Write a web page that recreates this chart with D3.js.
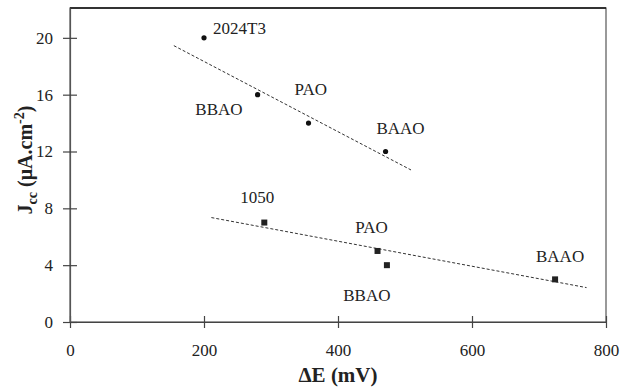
<!DOCTYPE html>
<html>
<head>
<meta charset="utf-8">
<script src="https://cdn.jsdelivr.net/npm/d3@7"></script>
<style>
  html, body { margin: 0; padding: 0; background: #fff; }
  svg text { font-family: "Liberation Serif", "DejaVu Serif", serif; fill: #222; }
</style>
</head>
<body>
<div id="chart"></div>
<script>
// alloy / anodic layer series
const upperNames = ['2024T3', 'BBAO', 'PAO', 'BAAO'];
const upperDeltaE = [200, 280, 356, 471];
const upperJcc = [20, 16, 14, 12];

const lowerNames = ['1050', 'PAO', 'BBAO', 'BAAO'];
const lowerDeltaE = [290, 459, 473, 724];
const lowerJcc = [7, 5, 4, 3];

// dashed trend lines (end points)
const upperFitX = [155, 509];
const upperFitY = [19.45, 10.7];
const lowerFitX = [211, 771];
const lowerFitY = [7.35, 2.42];

const xTicks = [0, 200, 400, 600, 800];
const yTicks = [0, 4, 8, 12, 16, 20];

// label placement relative to its point (px)
const upperLabelOffsets = [[9, -4, 'start'], [-15, 20, 'end'], [-14, -28, 'start'], [15, -18, 'middle']];
const lowerLabelOffsets = [[-7, -20, 'middle'], [-6, -18, 'middle'], [-20, 36, 'middle'], [5, -17, 'middle']];

const width = 635, height = 390;
const margin = { top: 8, right: 29, bottom: 68, left: 70 };
const w = width - margin.left - margin.right;
const h = height - margin.top - margin.bottom;

const svg = d3.select('#chart').append('svg')
  .attr('width', width)
  .attr('height', height);

const g = svg.append('g')
  .attr('transform', `translate(${margin.left},${margin.top})`);

const x = d3.scaleLinear().domain([0, 800]).range([0, w]);
const y = d3.scaleLinear().domain([0, 22.1]).range([h, 0]);

// frame
g.append('rect')
  .attr('width', w).attr('height', h)
  .attr('fill', 'none')
  .attr('stroke', '#555')
  .attr('stroke-width', 1.2);
g.append('line')
  .attr('x1', 0).attr('x2', w).attr('y1', 0).attr('y2', 0)
  .attr('stroke', '#111').attr('stroke-width', 1.5);

// axes
const xAxis = d3.axisBottom(x).tickValues(xTicks).tickSizeInner(6).tickSizeOuter(0).tickPadding(16);
const xg = g.append('g').attr('transform', `translate(0,${h})`).call(xAxis);
xg.select('.domain').attr('stroke', '#444').attr('stroke-width', 1.2);
xg.selectAll('.tick line').attr('y1', -6).attr('stroke', '#444').attr('stroke-width', 1.2);
xg.selectAll('.tick text').style('font-size', '17px').attr('fill', '#222');

const yAxis = d3.axisLeft(y).tickValues(yTicks).tickSizeInner(7).tickSizeOuter(0).tickPadding(10);
const yg = g.append('g').call(yAxis);
yg.select('.domain').attr('stroke', '#555').attr('stroke-width', 1.2);
yg.selectAll('.tick line').attr('x1', -7).attr('x2', 7).attr('stroke', '#444').attr('stroke-width', 1.2);
yg.selectAll('.tick text').style('font-size', '17px').attr('fill', '#222');

// trend lines
const line = d3.line().x(d => x(d[0])).y(d => y(d[1]));
[[upperFitX, upperFitY], [lowerFitX, lowerFitY]].forEach(([fx, fy]) => {
  g.append('path')
    .datum(fx.map((v, i) => [v, fy[i]]))
    .attr('d', line)
    .attr('fill', 'none')
    .attr('stroke', '#333')
    .attr('stroke-width', 1)
    .attr('stroke-dasharray', '3,2');
});

// points
g.selectAll('.dot')
  .data(upperDeltaE.map((v, i) => [v, upperJcc[i]]))
  .enter().append('circle')
  .attr('class', 'dot')
  .attr('cx', d => x(d[0]))
  .attr('cy', d => y(d[1]))
  .attr('r', 2.6)
  .attr('fill', '#111');

g.selectAll('.sq')
  .data(lowerDeltaE.map((v, i) => [v, lowerJcc[i]]))
  .enter().append('rect')
  .attr('class', 'sq')
  .attr('x', d => x(d[0]) - 3)
  .attr('y', d => y(d[1]) - 3)
  .attr('width', 6).attr('height', 6)
  .attr('fill', '#222');

// point labels
function addLabels(names, xs, ys, offs) {
  names.forEach((n, i) => {
    g.append('text')
      .attr('x', x(xs[i]) + offs[i][0])
      .attr('y', y(ys[i]) + offs[i][1])
      .attr('text-anchor', offs[i][2])
      .style('font-size', '17px')
      .text(n);
  });
}
addLabels(upperNames, upperDeltaE, upperJcc, upperLabelOffsets);
addLabels(lowerNames, lowerDeltaE, lowerJcc, lowerLabelOffsets);

// axis titles
svg.append('text')
  .attr('x', margin.left + w / 2)
  .attr('y', 382)
  .attr('text-anchor', 'middle')
  .style('font-size', '21px')
  .style('font-weight', 'bold')
  .text('\u0394E (mV)');

const yt = svg.append('text')
  .attr('transform', `translate(32,${margin.top + h / 2 - 5}) rotate(-90)`)
  .attr('text-anchor', 'middle')
  .style('font-size', '20px')
  .style('font-weight', 'bold');
yt.append('tspan').text('J');
yt.append('tspan').attr('dy', 5).style('font-size', '14px').text('cc');
yt.append('tspan').attr('dy', -5).text(' (\u03bcA.cm');
yt.append('tspan').attr('dy', -8).style('font-size', '14px').text('-2');
yt.append('tspan').attr('dy', 8).text(')');
</script>
</body>
</html>
